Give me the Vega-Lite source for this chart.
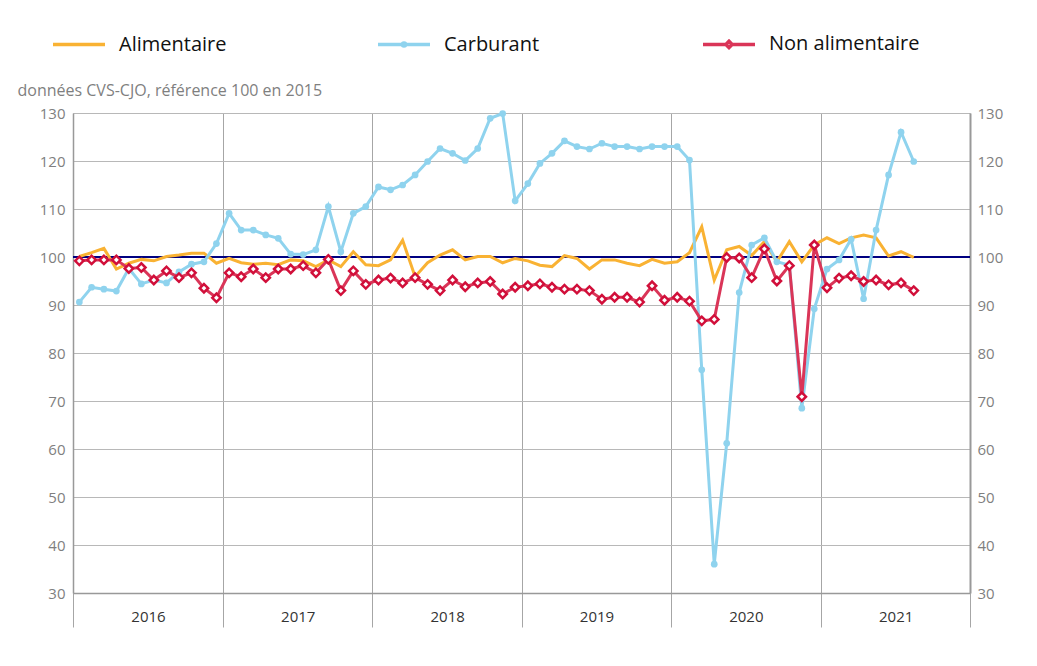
{
  "$schema": "https://vega.github.io/schema/vega-lite/v6.json",
  "width": 897,
  "height": 480,
  "autosize": {"type": "none"},
  "padding": {"left": 73, "top": 113, "right": 67, "bottom": 73},
  "background": "white",
  "config": {
    "font": "Open Sans",
    "view": {"stroke": null}
  },
  "data": {"values": [
    {"date":"2016-01","serie":"Alimentaire","valeur":100.1},{"date":"2016-02","serie":"Alimentaire","valeur":100.9},{"date":"2016-03","serie":"Alimentaire","valeur":101.8},{"date":"2016-04","serie":"Alimentaire","valeur":97.5},{"date":"2016-05","serie":"Alimentaire","valeur":98.7},{"date":"2016-06","serie":"Alimentaire","valeur":99.5},{"date":"2016-07","serie":"Alimentaire","valeur":99.2},{"date":"2016-08","serie":"Alimentaire","valeur":100.1},{"date":"2016-09","serie":"Alimentaire","valeur":100.4},{"date":"2016-10","serie":"Alimentaire","valeur":100.8},{"date":"2016-11","serie":"Alimentaire","valeur":100.8},{"date":"2016-12","serie":"Alimentaire","valeur":98.7},
    {"date":"2017-01","serie":"Alimentaire","valeur":99.7},{"date":"2017-02","serie":"Alimentaire","valeur":98.8},{"date":"2017-03","serie":"Alimentaire","valeur":98.5},{"date":"2017-04","serie":"Alimentaire","valeur":98.7},{"date":"2017-05","serie":"Alimentaire","valeur":98.4},{"date":"2017-06","serie":"Alimentaire","valeur":99.4},{"date":"2017-07","serie":"Alimentaire","valeur":99.2},{"date":"2017-08","serie":"Alimentaire","valeur":98.0},{"date":"2017-09","serie":"Alimentaire","valeur":99.4},{"date":"2017-10","serie":"Alimentaire","valeur":98.0},{"date":"2017-11","serie":"Alimentaire","valeur":101.1},{"date":"2017-12","serie":"Alimentaire","valeur":98.4},
    {"date":"2018-01","serie":"Alimentaire","valeur":98.2},{"date":"2018-02","serie":"Alimentaire","valeur":99.4},{"date":"2018-03","serie":"Alimentaire","valeur":103.5},{"date":"2018-04","serie":"Alimentaire","valeur":95.9},{"date":"2018-05","serie":"Alimentaire","valeur":98.8},{"date":"2018-06","serie":"Alimentaire","valeur":100.4},{"date":"2018-07","serie":"Alimentaire","valeur":101.5},{"date":"2018-08","serie":"Alimentaire","valeur":99.4},{"date":"2018-09","serie":"Alimentaire","valeur":100.1},{"date":"2018-10","serie":"Alimentaire","valeur":100.1},{"date":"2018-11","serie":"Alimentaire","valeur":98.8},{"date":"2018-12","serie":"Alimentaire","valeur":99.7},
    {"date":"2019-01","serie":"Alimentaire","valeur":99.2},{"date":"2019-02","serie":"Alimentaire","valeur":98.3},{"date":"2019-03","serie":"Alimentaire","valeur":98.0},{"date":"2019-04","serie":"Alimentaire","valeur":100.3},{"date":"2019-05","serie":"Alimentaire","valeur":99.7},{"date":"2019-06","serie":"Alimentaire","valeur":97.5},{"date":"2019-07","serie":"Alimentaire","valeur":99.4},{"date":"2019-08","serie":"Alimentaire","valeur":99.4},{"date":"2019-09","serie":"Alimentaire","valeur":98.7},{"date":"2019-10","serie":"Alimentaire","valeur":98.2},{"date":"2019-11","serie":"Alimentaire","valeur":99.5},{"date":"2019-12","serie":"Alimentaire","valeur":98.7},
    {"date":"2020-01","serie":"Alimentaire","valeur":99.0},{"date":"2020-02","serie":"Alimentaire","valeur":100.9},{"date":"2020-03","serie":"Alimentaire","valeur":106.3},{"date":"2020-04","serie":"Alimentaire","valeur":95.2},{"date":"2020-05","serie":"Alimentaire","valeur":101.5},{"date":"2020-06","serie":"Alimentaire","valeur":102.2},{"date":"2020-07","serie":"Alimentaire","valeur":100.3},{"date":"2020-08","serie":"Alimentaire","valeur":103.2},{"date":"2020-09","serie":"Alimentaire","valeur":99.0},{"date":"2020-10","serie":"Alimentaire","valeur":103.2},{"date":"2020-11","serie":"Alimentaire","valeur":99.0},{"date":"2020-12","serie":"Alimentaire","valeur":102.5},
    {"date":"2021-01","serie":"Alimentaire","valeur":104.0},{"date":"2021-02","serie":"Alimentaire","valeur":102.8},{"date":"2021-03","serie":"Alimentaire","valeur":104.0},{"date":"2021-04","serie":"Alimentaire","valeur":104.6},{"date":"2021-05","serie":"Alimentaire","valeur":104.0},{"date":"2021-06","serie":"Alimentaire","valeur":100.2},{"date":"2021-07","serie":"Alimentaire","valeur":101.1},{"date":"2021-08","serie":"Alimentaire","valeur":99.9},

    {"date":"2016-01","serie":"Carburant","valeur":90.6},{"date":"2016-02","serie":"Carburant","valeur":93.7},{"date":"2016-03","serie":"Carburant","valeur":93.3},{"date":"2016-04","serie":"Carburant","valeur":92.9},{"date":"2016-05","serie":"Carburant","valeur":97.6},{"date":"2016-06","serie":"Carburant","valeur":94.4},{"date":"2016-07","serie":"Carburant","valeur":95.2},{"date":"2016-08","serie":"Carburant","valeur":94.6},{"date":"2016-09","serie":"Carburant","valeur":96.9},{"date":"2016-10","serie":"Carburant","valeur":98.5},{"date":"2016-11","serie":"Carburant","valeur":99.0},{"date":"2016-12","serie":"Carburant","valeur":102.8},
    {"date":"2017-01","serie":"Carburant","valeur":109.1},{"date":"2017-02","serie":"Carburant","valeur":105.6},{"date":"2017-03","serie":"Carburant","valeur":105.6},{"date":"2017-04","serie":"Carburant","valeur":104.6},{"date":"2017-05","serie":"Carburant","valeur":103.9},{"date":"2017-06","serie":"Carburant","valeur":100.6},{"date":"2017-07","serie":"Carburant","valeur":100.5},{"date":"2017-08","serie":"Carburant","valeur":101.5},{"date":"2017-09","serie":"Carburant","valeur":110.5},{"date":"2017-10","serie":"Carburant","valeur":101.1},{"date":"2017-11","serie":"Carburant","valeur":109.1},{"date":"2017-12","serie":"Carburant","valeur":110.5},
    {"date":"2018-01","serie":"Carburant","valeur":114.6},{"date":"2018-02","serie":"Carburant","valeur":114.0},{"date":"2018-03","serie":"Carburant","valeur":115.0},{"date":"2018-04","serie":"Carburant","valeur":117.1},{"date":"2018-05","serie":"Carburant","valeur":119.9},{"date":"2018-06","serie":"Carburant","valeur":122.6},{"date":"2018-07","serie":"Carburant","valeur":121.6},{"date":"2018-08","serie":"Carburant","valeur":120.1},{"date":"2018-09","serie":"Carburant","valeur":122.6},{"date":"2018-10","serie":"Carburant","valeur":128.9},{"date":"2018-11","serie":"Carburant","valeur":129.9},{"date":"2018-12","serie":"Carburant","valeur":111.7},
    {"date":"2019-01","serie":"Carburant","valeur":115.3},{"date":"2019-02","serie":"Carburant","valeur":119.5},{"date":"2019-03","serie":"Carburant","valeur":121.6},{"date":"2019-04","serie":"Carburant","valeur":124.2},{"date":"2019-05","serie":"Carburant","valeur":123.0},{"date":"2019-06","serie":"Carburant","valeur":122.5},{"date":"2019-07","serie":"Carburant","valeur":123.7},{"date":"2019-08","serie":"Carburant","valeur":123.0},{"date":"2019-09","serie":"Carburant","valeur":123.0},{"date":"2019-10","serie":"Carburant","valeur":122.5},{"date":"2019-11","serie":"Carburant","valeur":123.0},{"date":"2019-12","serie":"Carburant","valeur":123.0},
    {"date":"2020-01","serie":"Carburant","valeur":123.0},{"date":"2020-02","serie":"Carburant","valeur":120.2},{"date":"2020-03","serie":"Carburant","valeur":76.5},{"date":"2020-04","serie":"Carburant","valeur":36.0},{"date":"2020-05","serie":"Carburant","valeur":61.2},{"date":"2020-06","serie":"Carburant","valeur":92.6},{"date":"2020-07","serie":"Carburant","valeur":102.5},{"date":"2020-08","serie":"Carburant","valeur":104.0},{"date":"2020-09","serie":"Carburant","valeur":99.0},{"date":"2020-10","serie":"Carburant","valeur":98.3},{"date":"2020-11","serie":"Carburant","valeur":68.5},{"date":"2020-12","serie":"Carburant","valeur":89.2},
    {"date":"2021-01","serie":"Carburant","valeur":97.5},{"date":"2021-02","serie":"Carburant","valeur":99.4},{"date":"2021-03","serie":"Carburant","valeur":103.7},{"date":"2021-04","serie":"Carburant","valeur":91.3},{"date":"2021-05","serie":"Carburant","valeur":105.6},{"date":"2021-06","serie":"Carburant","valeur":117.1},{"date":"2021-07","serie":"Carburant","valeur":126.0},{"date":"2021-08","serie":"Carburant","valeur":119.9},

    {"date":"2016-01","serie":"Non alimentaire","valeur":99.2},{"date":"2016-02","serie":"Non alimentaire","valeur":99.4},{"date":"2016-03","serie":"Non alimentaire","valeur":99.4},{"date":"2016-04","serie":"Non alimentaire","valeur":99.4},{"date":"2016-05","serie":"Non alimentaire","valeur":97.6},{"date":"2016-06","serie":"Non alimentaire","valeur":97.8},{"date":"2016-07","serie":"Non alimentaire","valeur":95.2},{"date":"2016-08","serie":"Non alimentaire","valeur":97.1},{"date":"2016-09","serie":"Non alimentaire","valeur":95.7},{"date":"2016-10","serie":"Non alimentaire","valeur":96.7},{"date":"2016-11","serie":"Non alimentaire","valeur":93.5},{"date":"2016-12","serie":"Non alimentaire","valeur":91.5},
    {"date":"2017-01","serie":"Non alimentaire","valeur":96.7},{"date":"2017-02","serie":"Non alimentaire","valeur":95.9},{"date":"2017-03","serie":"Non alimentaire","valeur":97.5},{"date":"2017-04","serie":"Non alimentaire","valeur":95.7},{"date":"2017-05","serie":"Non alimentaire","valeur":97.5},{"date":"2017-06","serie":"Non alimentaire","valeur":97.5},{"date":"2017-07","serie":"Non alimentaire","valeur":98.2},{"date":"2017-08","serie":"Non alimentaire","valeur":96.7},{"date":"2017-09","serie":"Non alimentaire","valeur":99.5},{"date":"2017-10","serie":"Non alimentaire","valeur":93.0},{"date":"2017-11","serie":"Non alimentaire","valeur":97.1},{"date":"2017-12","serie":"Non alimentaire","valeur":94.3},
    {"date":"2018-01","serie":"Non alimentaire","valeur":95.2},{"date":"2018-02","serie":"Non alimentaire","valeur":95.6},{"date":"2018-03","serie":"Non alimentaire","valeur":94.6},{"date":"2018-04","serie":"Non alimentaire","valeur":95.7},{"date":"2018-05","serie":"Non alimentaire","valeur":94.3},{"date":"2018-06","serie":"Non alimentaire","valeur":93.0},{"date":"2018-07","serie":"Non alimentaire","valeur":95.2},{"date":"2018-08","serie":"Non alimentaire","valeur":93.8},{"date":"2018-09","serie":"Non alimentaire","valeur":94.6},{"date":"2018-10","serie":"Non alimentaire","valeur":94.9},{"date":"2018-11","serie":"Non alimentaire","valeur":92.3},{"date":"2018-12","serie":"Non alimentaire","valeur":93.7},
    {"date":"2019-01","serie":"Non alimentaire","valeur":94.0},{"date":"2019-02","serie":"Non alimentaire","valeur":94.4},{"date":"2019-03","serie":"Non alimentaire","valeur":93.7},{"date":"2019-04","serie":"Non alimentaire","valeur":93.3},{"date":"2019-05","serie":"Non alimentaire","valeur":93.3},{"date":"2019-06","serie":"Non alimentaire","valeur":93.0},{"date":"2019-07","serie":"Non alimentaire","valeur":91.2},{"date":"2019-08","serie":"Non alimentaire","valeur":91.6},{"date":"2019-09","serie":"Non alimentaire","valeur":91.6},{"date":"2019-10","serie":"Non alimentaire","valeur":90.6},{"date":"2019-11","serie":"Non alimentaire","valeur":94.0},{"date":"2019-12","serie":"Non alimentaire","valeur":91.0},
    {"date":"2020-01","serie":"Non alimentaire","valeur":91.6},{"date":"2020-02","serie":"Non alimentaire","valeur":90.8},{"date":"2020-03","serie":"Non alimentaire","valeur":86.7},{"date":"2020-04","serie":"Non alimentaire","valeur":87.0},{"date":"2020-05","serie":"Non alimentaire","valeur":99.9},{"date":"2020-06","serie":"Non alimentaire","valeur":99.8},{"date":"2020-07","serie":"Non alimentaire","valeur":95.7},{"date":"2020-08","serie":"Non alimentaire","valeur":101.7},{"date":"2020-09","serie":"Non alimentaire","valeur":95.0},{"date":"2020-10","serie":"Non alimentaire","valeur":98.2},{"date":"2020-11","serie":"Non alimentaire","valeur":70.9},{"date":"2020-12","serie":"Non alimentaire","valeur":102.5},
    {"date":"2021-01","serie":"Non alimentaire","valeur":93.6},{"date":"2021-02","serie":"Non alimentaire","valeur":95.6},{"date":"2021-03","serie":"Non alimentaire","valeur":96.1},{"date":"2021-04","serie":"Non alimentaire","valeur":94.9},{"date":"2021-05","serie":"Non alimentaire","valeur":95.2},{"date":"2021-06","serie":"Non alimentaire","valeur":94.2},{"date":"2021-07","serie":"Non alimentaire","valeur":94.6},{"date":"2021-08","serie":"Non alimentaire","valeur":93.0}
  ]},
  "resolve": {"axis": {"y": "independent"}},
  "layer": [
    {
      "mark": {"type": "rule", "color": "#000080", "strokeWidth": 1.8},
      "encoding": {
        "y": {"datum": 100, "type": "quantitative", "scale": {"domain": [30, 130], "nice": false, "zero": false}, "axis": null}
      }
    },
    {
      "mark": {"type": "line", "strokeWidth": 3, "interpolate": "linear"},
      "encoding": {
        "x": {
          "field": "date", "timeUnit": "utcyearmonth", "type": "temporal", "bandPosition": 0.5,
          "scale": {"type": "utc", "domain": [{"year": 2016, "month": 1, "date": 1, "utc": true}, {"year": 2022, "month": 1, "date": 1, "utc": true}]},
          "axis": {
            "title": null,
            "values": [
              {"year": 2016, "month": 1, "date": 1, "utc": true},
              {"year": 2017, "month": 1, "date": 1, "utc": true},
              {"year": 2018, "month": 1, "date": 1, "utc": true},
              {"year": 2019, "month": 1, "date": 1, "utc": true},
              {"year": 2020, "month": 1, "date": 1, "utc": true},
              {"year": 2021, "month": 1, "date": 1, "utc": true},
              {"year": 2022, "month": 1, "date": 1, "utc": true}
            ],
            "labelExpr": "utcFormat(datum.value, '%Y') == '2022' ? '' : utcFormat(datum.value, '%Y')",
            "labelOffset": 75,
            "labelOverlap": false,
            "labelBound": false,
            "labelFlush": false,
            "labelPadding": -18,
            "labelFontSize": 15,
            "labelColor": "#333333",
            "grid": true,
            "gridColor": "#a6a6a6",
            "gridWidth": 1,
            "ticks": true,
            "tickSize": 34,
            "tickColor": "#a6a6a6",
            "domainColor": "#999999",
            "domainWidth": 1.5
          }
        },
        "y": {
          "field": "valeur", "type": "quantitative",
          "scale": {"domain": [30, 130], "nice": false, "zero": false},
          "axis": {
            "orient": "left",
            "values": [30, 40, 50, 60, 70, 80, 90, 100, 110, 120, 130],
            "grid": true,
            "gridColor": "#b8b8b8",
            "ticks": false,
            "domainColor": "#999999",
            "domainWidth": 1.5,
            "labelColor": "#7f7f7f",
            "labelFontSize": 15,
            "labelPadding": 8,
            "title": "données CVS-CJO, référence 100 en 2015",
            "titleAngle": 0,
            "titleX": -56,
            "titleY": -23,
            "titleAlign": "left",
            "titleBaseline": "middle",
            "titleFontWeight": "normal",
            "titleFontSize": 16,
            "titleColor": "#7f7f7f"
          }
        },
        "color": {
          "field": "serie", "type": "nominal",
          "scale": {"domain": ["Alimentaire", "Carburant", "Non alimentaire"], "range": ["#F9B233", "#8FD3EE", "#DA3558"]},
          "legend": {
            "title": null,
            "orient": "none",
            "legendX": -22,
            "legendY": -97,
            "direction": "horizontal",
            "columns": 3,
            "gridAlign": "all",
            "columnPadding": 101,
            "symbolType": "stroke",
            "symbolSize": 2704,
            "symbolStrokeWidth": 3.5,
            "labelFontSize": 20,
            "labelColor": "#111111",
            "labelOffset": 12,
            "labelLimit": 300,
            "encode": {
              "symbols": {
                "update": {
                  "shape": {"signal": "datum.value == 'Carburant' ? 'M-1,0H1M-0.06,0A0.06,0.06,0,1,1,0.06,0A0.06,0.06,0,1,1,-0.06,0' : (datum.value == 'Non alimentaire' ? 'M-1,0H-0.12M0.12,0H1M0,-0.12L0.12,0L0,0.12L-0.12,0Z' : 'M-1,0H1')"},
                  "fill": {"value": "transparent"}
                }
              }
            }
          }
        }
      }
    },
    {
      "transform": [{"filter": "datum.serie == 'Carburant'"}],
      "mark": {"type": "point", "shape": "circle", "filled": true, "size": 45, "color": "#8FD3EE", "opacity": 1},
      "encoding": {
        "x": {"field": "date", "timeUnit": "utcyearmonth", "type": "temporal", "bandPosition": 0.5},
        "y": {
          "field": "valeur", "type": "quantitative",
          "axis": {
            "orient": "right",
            "values": [30, 40, 50, 60, 70, 80, 90, 100, 110, 120, 130],
            "grid": false,
            "ticks": false,
            "domainColor": "#999999",
            "domainWidth": 2,
            "labelColor": "#7f7f7f",
            "labelFontSize": 15,
            "labelPadding": 7,
            "title": null
          }
        }
      }
    },
    {
      "transform": [{"filter": "datum.serie == 'Non alimentaire'"}],
      "mark": {"type": "point", "shape": "diamond", "filled": true, "size": 70, "fill": "#ffffff", "stroke": "#D10F3A", "strokeWidth": 2.5, "opacity": 1},
      "encoding": {
        "x": {"field": "date", "timeUnit": "utcyearmonth", "type": "temporal", "bandPosition": 0.5},
        "y": {"field": "valeur", "type": "quantitative", "axis": null}
      }
    }
  ]
}
